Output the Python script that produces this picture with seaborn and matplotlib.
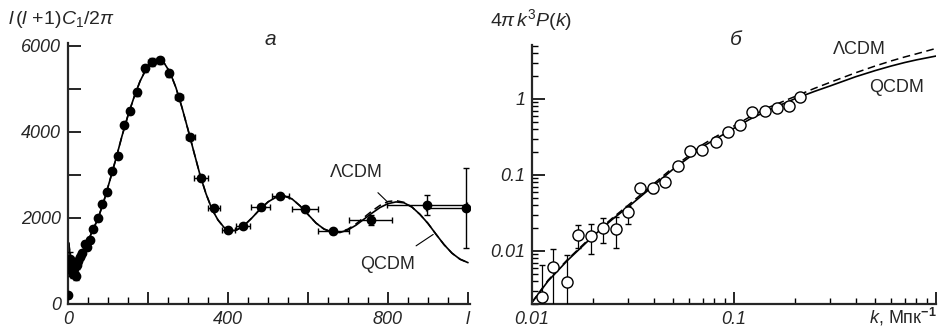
import numpy as np
import pandas as pd
import matplotlib
matplotlib.use("Agg")
import matplotlib.pyplot as plt
import seaborn as sns
from matplotlib.ticker import MultipleLocator, LogLocator, NullFormatter, FixedLocator

# ---------------- data: panel a (CMB spectrum) ----------------
l_curve = [2, 5, 10, 15, 20, 30, 40, 50, 60, 75, 90, 105, 120, 135, 150, 165, 180, 195,
           210, 225, 240, 255, 270, 285, 300, 315, 330, 345, 360, 375, 390, 405, 420,
           440, 460, 480, 500, 520, 540, 560, 580, 600, 620, 640, 660, 680, 700, 720,
           740, 760, 780, 800, 820, 840, 860, 880, 900, 920, 940, 960, 980, 1000]
C_qcdm = [1420, 1150, 900, 820, 850, 1050, 1270, 1450, 1680, 1980, 2400, 2880, 3380,
          3900, 4380, 4800, 5170, 5450, 5620, 5680, 5600, 5380, 5020, 4560, 4050, 3520,
          3000, 2560, 2200, 1950, 1780, 1700, 1710, 1820, 2000, 2200, 2370, 2480, 2510,
          2440, 2280, 2080, 1880, 1740, 1670, 1660, 1720, 1830, 1970, 2110, 2240, 2330,
          2370, 2350, 2250, 2080, 1870, 1620, 1380, 1180, 1040, 960]
C_lcdm = [1420, 1150, 900, 820, 850, 1050, 1270, 1450, 1680, 1980, 2400, 2880, 3380,
          3900, 4380, 4800, 5170, 5450, 5620, 5680, 5600, 5380, 5020, 4560, 4050, 3520,
          3000, 2560, 2200, 1950, 1780, 1700, 1710, 1820, 2000, 2200, 2370, 2480, 2510,
          2440, 2280, 2080, 1880, 1740, 1670, 1670, 1740, 1860, 2010, 2160, 2290, 2380,
          2400, 2360, 2250, 2080, 1870, 1620, 1380, 1180, 1040, 960]

l_obs = [1, 4, 7, 10, 13, 16, 19, 22, 26, 30, 35, 42, 47, 55, 63, 76, 86, 97, 111, 124,
         139, 155, 172, 192, 209, 230, 252, 278, 306, 333, 365, 401, 438, 482, 531, 592,
         663, 757, 897, 994]
C_obs = [200, 1050, 780, 900, 700, 820, 650, 900, 1000, 1100, 1180, 1400, 1320, 1480,
         1750, 2000, 2315, 2595, 3077, 3440, 4163, 4483, 4918, 5469, 5617, 5655, 5352,
         4816, 3870, 2928, 2221, 1725, 1809, 2245, 2500, 2198, 1685, 1958, 2291, 2229]
l_err = [0, 0, 0, 0, 0, 0, 0, 0, 0, 0, 0, 0, 0, 0, 0, 0, 0, 0, 0, 0,
         0, 0, 0, 5, 8, 8, 8, 10, 12, 17, 14, 17, 18, 24, 21, 33, 39, 54, 100, 100]
C_err = [60, 150, 120, 120, 100, 100, 90, 90, 80, 80, 80, 70, 70, 70, 70, 70, 70, 70,
         60, 60, 70, 70, 80, 80, 90, 90, 70, 60, 60, 60, 60, 50, 50, 60, 60, 60, 60,
         120, 233, 920]

# ---------------- data: panel б (matter power spectrum) ----------------
k_curve = [0.01, 0.012, 0.015, 0.02, 0.025, 0.03, 0.04, 0.05, 0.06, 0.07, 0.08, 0.1,
           0.12, 0.15, 0.2, 0.25, 0.3, 0.4, 0.5, 0.6, 0.7, 0.8, 1.0]
P_qcdm = [0.0021, 0.0040, 0.0075, 0.0155, 0.026, 0.038, 0.072, 0.119, 0.17, 0.235,
          0.29, 0.41, 0.54, 0.72, 1.0, 1.25, 1.48, 1.95, 2.35, 2.7, 3.0, 3.25, 3.65]
P_lcdm = [0.0021, 0.0041, 0.0077, 0.0160, 0.027, 0.040, 0.076, 0.125, 0.18, 0.25,
          0.31, 0.44, 0.58, 0.78, 1.07, 1.37, 1.65, 2.2, 2.7, 3.15, 3.55, 3.9, 4.6]

k_obs = [0.01116, 0.01274, 0.01483, 0.01691, 0.01955, 0.02246, 0.02593, 0.0298,
         0.0344, 0.0396, 0.0456, 0.0526, 0.0607, 0.0698, 0.0813, 0.0934, 0.1066,
         0.123, 0.142, 0.163, 0.188, 0.213]
P_obs = [0.0025, 0.0061, 0.0039, 0.0163, 0.0157, 0.0199, 0.0195, 0.0323, 0.068,
         0.0668, 0.0816, 0.131, 0.203, 0.209, 0.274, 0.365, 0.446, 0.68, 0.695,
         0.755, 0.81, 1.07]
P_lo = [0.001, 0.001, 0.001, 0.0108, 0.0091, 0.0126, 0.0108, 0.0224, 0.060, 0.058,
        0.072, 0.12, 0.19, 0.195, 0.26, 0.345, 0.43, 0.66, 0.675, 0.735, 0.79, 1.04]
P_hi = [0.0066, 0.0106, 0.0089, 0.022, 0.0224, 0.0274, 0.0283, 0.039, 0.076, 0.075,
        0.090, 0.14, 0.215, 0.22, 0.29, 0.385, 0.465, 0.70, 0.715, 0.775, 0.83, 1.10]

# ---------------- style ----------------
sns.set_style("ticks")
plt.rcParams["font.family"] = ["Liberation Sans", "DejaVu Sans"]
plt.rcParams["mathtext.fontset"] = "custom"
plt.rcParams["mathtext.it"] = "Liberation Sans:italic"
plt.rcParams["mathtext.rm"] = "Liberation Sans"
plt.rcParams["mathtext.sf"] = "Liberation Sans"
plt.rcParams["mathtext.bf"] = "Liberation Sans:bold"

FS = 13
fig = plt.figure(figsize=(9.39, 3.31), dpi=100)
axA = fig.add_axes([68 / 939, 1 - 304 / 331, 402 / 939, 261 / 331])
axB = fig.add_axes([532 / 939, 1 - 304 / 331, 404 / 939, 259 / 331])

for ax in (axA, axB):
    sns.despine(ax=ax)
    ax.spines["left"].set_linewidth(1.6)
    ax.spines["bottom"].set_linewidth(1.6)
    ax.tick_params(which="both", direction="in", color="black", width=1.2,
                   labelsize=FS, pad=5)
    ax.tick_params(which="major", length=9)

# ---------------- panel a ----------------
dfA = pd.DataFrame({"l": l_curve, "Q": C_qcdm, "L": C_lcdm})
sns.lineplot(data=dfA, x="l", y="L", ax=axA, color="black", lw=1.1,
             linestyle=(0, (5, 3)), sort=False)
sns.lineplot(data=dfA, x="l", y="Q", ax=axA, color="black", lw=1.2, sort=False)
axA.errorbar(l_obs, C_obs, xerr=l_err, yerr=C_err, fmt="o", color="black",
             ms=6, lw=1.0, capsize=2.5, capthick=1.0, clip_on=True, zorder=5)
axA.set_xlim(0, 1005)
axA.set_ylim(0, 6060)
axA.xaxis.set_major_locator(FixedLocator([0, 200, 400, 600, 800, 1000]))
axA.set_xticklabels(["0", "", "400", "", "800", "l"])
axA.xaxis.set_minor_locator(MultipleLocator(50))
axA.yaxis.set_major_locator(MultipleLocator(2000))
axA.yaxis.set_minor_locator(MultipleLocator(1000))
axA.tick_params(axis="y", which="minor", length=9, width=1.2)
axA.tick_params(axis="x", which="minor", length=5, width=1.0)
axA.set_xlabel("")
axA.set_ylabel("")
for t in axA.get_xticklabels() + axA.get_yticklabels():
    t.set_style("italic")
    t.set_fontsize(FS)

axA.text(505, 6150, "a", fontsize=15, style="italic", ha="center", va="center")
axA.annotate("ΛCDM", xy=(797, 2385), xytext=(722, 3060), fontsize=FS,
             ha="center", va="center",
             arrowprops=dict(arrowstyle="-", lw=0.8, color="black",
                             shrinkA=9, shrinkB=0))
axA.annotate("QCDM", xy=(913, 1615), xytext=(800, 916), fontsize=FS,
             ha="center", va="center",
             arrowprops=dict(arrowstyle="-", lw=0.8, color="black",
                             shrinkA=9, shrinkB=0))
fig.text(8 / 939, 1 - 20 / 331, r"$l\,(l\,+\!1)C_1/2\pi$", fontsize=14,
         ha="left", va="center")

# ---------------- panel б ----------------
dfB = pd.DataFrame({"k": k_curve, "Q": P_qcdm, "L": P_lcdm})
sns.lineplot(data=dfB, x="k", y="L", ax=axB, color="black", lw=1.1,
             linestyle=(0, (5, 3)), sort=False)
sns.lineplot(data=dfB, x="k", y="Q", ax=axB, color="black", lw=1.2, sort=False)
yerr = [np.array(P_obs) - np.array(P_lo), np.array(P_hi) - np.array(P_obs)]
axB.errorbar(k_obs, P_obs, yerr=yerr, fmt="o", mfc="white", mec="black",
             mew=1.0, color="black", ms=8, lw=0.9, capsize=2.5, capthick=0.9,
             zorder=5)
axB.set_xscale("log")
axB.set_yscale("log")
axB.set_xlim(0.01, 1.0)
axB.set_ylim(0.002, 5.1)
axB.xaxis.set_major_locator(FixedLocator([0.01, 0.1, 1.0]))
axB.set_xticklabels(["0.01", "0.1", ""])
axB.xaxis.set_minor_locator(LogLocator(base=10, subs=np.arange(2, 10)))
axB.xaxis.set_minor_formatter(NullFormatter())
axB.yaxis.set_major_locator(FixedLocator([0.01, 0.1, 1.0]))
axB.set_yticklabels(["0.01", "0.1", "1"])
axB.yaxis.set_minor_locator(LogLocator(base=10, subs=np.arange(2, 10)))
axB.yaxis.set_minor_formatter(NullFormatter())
axB.tick_params(which="minor", length=4, width=1.0)
axB.set_xlabel("")
axB.set_ylabel("")
for t in axB.get_xticklabels() + axB.get_yticklabels():
    t.set_style("italic")
    t.set_fontsize(FS)

axB.text(0.102, 5.97, "б", fontsize=15, style="italic", ha="center",
         va="center")
axB.text(0.418, 4.42, "ΛCDM", fontsize=FS, ha="center", va="center")
axB.text(0.635, 1.40, "QCDM", fontsize=FS, ha="center", va="center")
fig.text(490 / 939, 1 - 20 / 331, r"$4\pi\,k^3P(k)$", fontsize=14,
         ha="left", va="center")
fig.text(937 / 939, 1 - 317 / 331, r"$k$, Мпк$^{\mathbf{-1}}$", fontsize=FS,
         ha="right", va="center")

fig.savefig("out.png", dpi=100)
